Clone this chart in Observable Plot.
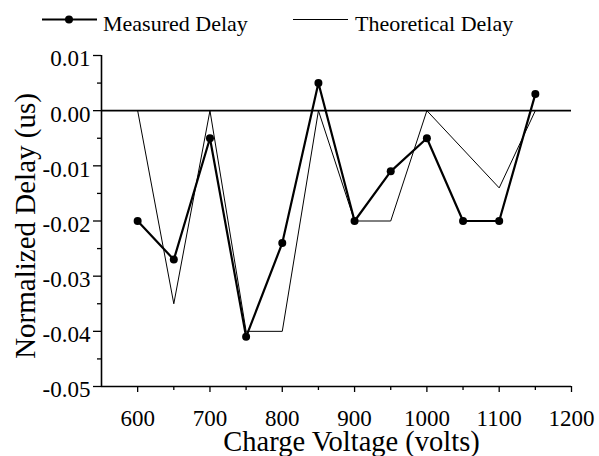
<!DOCTYPE html>
<html><head><meta charset="utf-8">
<script src="https://cdn.jsdelivr.net/npm/d3@7"></script>
<script src="https://cdn.jsdelivr.net/npm/@observablehq/plot@0.6"></script>
<style>
body{margin:0;background:#fff;}
#wrap{position:relative;width:599px;height:456px;}
#legend{position:absolute;left:0;top:0;}
</style></head><body>
<div id="wrap"></div>
<script>
// ---- data ----
const measuredVoltage = [600, 650, 700, 750, 800, 850, 900, 950, 1000, 1050, 1100, 1150];
const measuredDelay = [-0.020, -0.027, -0.005, -0.041, -0.024, 0.005, -0.020, -0.011, -0.005, -0.020, -0.020, 0.003];
const theoreticalVoltage = [600, 650, 700, 750, 800, 850, 900, 950, 1000, 1100, 1150];
const theoreticalDelay = [0.000, -0.035, 0.000, -0.040, -0.040, 0.000, -0.020, -0.020, 0.000, -0.014, 0.000];
const xMajorTicks = [600, 700, 800, 900, 1000, 1100, 1200];
const xMinorTicks = [650, 750, 850, 950, 1050, 1150];
const yMajorTicks = [-0.05, -0.04, -0.03, -0.02, -0.01, 0.00, 0.01];
const yMinorTicks = [-0.045, -0.035, -0.025, -0.015, -0.005, 0.005];
const seriesNames = ["Measured Delay", "Theoretical Delay"];
const xTitle = "Charge Voltage (volts)";
const yTitle = "Normalized Delay (us)";

const measured = measuredVoltage.map((v, i) => ({v, d: measuredDelay[i]}));
const theoretical = theoreticalVoltage.map((v, i) => ({v, d: theoreticalDelay[i]}));

const fontFamily = "Liberation Serif, serif";

const chart = Plot.plot({
  width: 599, height: 456,
  marginLeft: 101, marginRight: 28, marginTop: 55, marginBottom: 70,
  style: {fontFamily, fontSize: "23px", color: "#000", background: "#fff", overflow: "visible"},
  x: {domain: [550, 1200], axis: null},
  y: {domain: [-0.05, 0.01], axis: null},
  marks: [
    Plot.axisX(xMajorTicks, {tickSize: 6, tickPadding: 17, tickFormat: d => String(d), strokeWidth: 1.3, label: null, fontSize: 23}),
    Plot.axisX(xMinorTicks, {tickSize: 4, text: null, label: null, strokeWidth: 1.3}),
    Plot.axisY(yMajorTicks, {tickSize: 8, text: null, label: null, strokeWidth: 1.3}),
    Plot.axisY(yMajorTicks, {tickSize: 0, tickPadding: 11, dy: 3.5, tickFormat: d => d.toFixed(2), label: null, fontSize: 23}),
    Plot.axisY(yMinorTicks, {tickSize: 4, text: null, label: null, strokeWidth: 1.3}),
    Plot.ruleX([550], {stroke: "#000", strokeWidth: 1.6}),
    Plot.ruleY([-0.05], {stroke: "#000", strokeWidth: 1.6}),
    Plot.ruleY([0], {stroke: "#000", strokeWidth: 1.6}),
    Plot.line(theoretical, {x: "v", y: "d", stroke: "#000", strokeWidth: 1}),
    Plot.line(measured, {x: "v", y: "d", stroke: "#000", strokeWidth: 2.2}),
    Plot.dot(measured, {x: "v", y: "d", r: 4, fill: "#000", stroke: "none"}),
    Plot.text([xTitle], {frameAnchor: "bottom", textAnchor: "middle", dx: 15, dy: 55, lineAnchor: "middle", fontSize: 28.5, fill: "#000"}),
    Plot.text([yTitle], {frameAnchor: "left", textAnchor: "middle", dx: -76, dy: 5, rotate: -90, lineAnchor: "middle", fontSize: 29, fill: "#000"})
  ]
});

const wrap = document.getElementById("wrap");
wrap.appendChild(chart);

// legend (overlay above the plot area)
const ns = "http://www.w3.org/2000/svg";
const leg = document.createElementNS(ns, "svg");
leg.setAttribute("id", "legend");
leg.setAttribute("width", 599);
leg.setAttribute("height", 45);
leg.setAttribute("font-family", fontFamily);
leg.setAttribute("font-size", 22);
leg.innerHTML = `
  <line x1="42" x2="97" y1="19.5" y2="19.5" stroke="#000" stroke-width="2"/>
  <circle cx="69" cy="19.5" r="4" fill="#000"/>
  <text x="103" y="31" fill="#000">${seriesNames[0]}</text>
  <line x1="293" x2="348" y1="19.5" y2="19.5" stroke="#000" stroke-width="1"/>
  <text x="355" y="31" fill="#000">${seriesNames[1]}</text>`;
wrap.appendChild(leg);
</script>
</body></html>
